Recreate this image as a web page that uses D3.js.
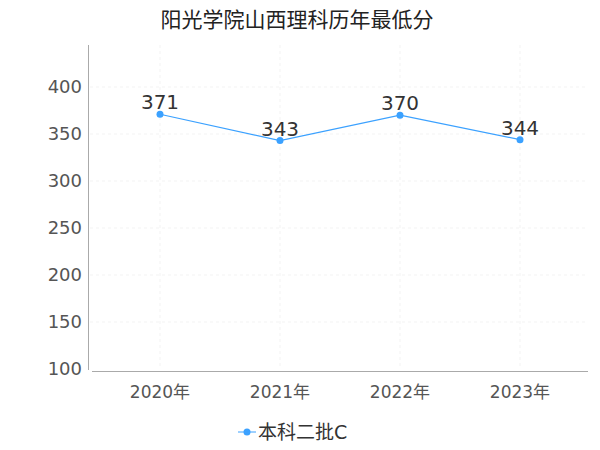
<!DOCTYPE html>
<html><head><meta charset="utf-8">
<script src="https://cdn.jsdelivr.net/npm/d3@7"></script>
<style>body{margin:0;background:#fff}text{font-family:"DejaVu Sans","Noto Sans CJK SC",sans-serif}</style>
</head><body>
<script>
// chart data
const years = ["2020年", "2021年", "2022年", "2023年"];
const scores = [371, 343, 370, 344];
const yTicks = [100, 150, 200, 250, 300, 350, 400];
const seriesName = "本科二批C";
const color = "#3ba1ff";

const w = 600, h = 450;
const svg = d3.select("body").append("svg").attr("width", w).attr("height", h);

const x = d3.scaleBand().domain(years).range([100, 580]);
const y = d3.scaleLinear().domain([100, 450]).range([369, 40]);

// grid
svg.selectAll(".hg").data(yTicks.slice(1)).enter().append("line")
  .attr("x1", 90).attr("x2", 588).attr("y1", d => y(d)).attr("y2", d => y(d))
  .attr("stroke", "#f3f3f3").attr("stroke-dasharray", "3,3");
svg.selectAll(".vg").data(years).enter().append("line")
  .attr("x1", d => x(d) + x.bandwidth() / 2).attr("x2", d => x(d) + x.bandwidth() / 2)
  .attr("y1", 45).attr("y2", 369).attr("stroke", "#f3f3f3").attr("stroke-dasharray", "3,3");

// axes
svg.append("line").attr("x1", 88.5).attr("x2", 88.5).attr("y1", 45).attr("y2", 370).attr("stroke", "#aaa");
svg.append("line").attr("x1", 92).attr("x2", 588).attr("y1", 371.5).attr("y2", 371.5).attr("stroke", "#aaa");
svg.selectAll(".yt").data(yTicks).enter().append("text")
  .attr("x", 82).attr("y", d => y(d)).attr("dy", "0.35em").attr("text-anchor", "end")
  .attr("font-size", 18).attr("fill", "#555").text(d => d);
svg.selectAll(".xt").data(years).enter().append("text")
  .attr("x", d => x(d) + x.bandwidth() / 2).attr("y", 398).attr("text-anchor", "middle")
  .attr("font-size", 17).attr("fill", "#555").text(d => d);

// line
const pts = years.map((d, i) => [x(d) + x.bandwidth() / 2, y(scores[i])]);
svg.append("path").attr("d", d3.line()(pts)).attr("fill", "none").attr("stroke", color).attr("stroke-width", 1.2);
svg.selectAll(".pt").data(pts).enter().append("circle")
  .attr("cx", d => d[0]).attr("cy", d => d[1]).attr("r", 3.5).attr("fill", color);
svg.selectAll(".lb").data(pts).enter().append("text")
  .attr("x", d => d[0]).attr("y", d => d[1] - 5).attr("text-anchor", "middle")
  .attr("font-size", 20).attr("fill", "#333").text((d, i) => scores[i]);

// title
svg.append("text").attr("x", 297).attr("y", 27).attr("text-anchor", "middle")
  .attr("font-size", 21).attr("fill", "#222").text("阳光学院山西理科历年最低分");

// legend
svg.append("line").attr("x1", 238).attr("x2", 256).attr("y1", 432).attr("y2", 432).attr("stroke", color);
svg.append("circle").attr("cx", 247).attr("cy", 432).attr("r", 3.5).attr("fill", color);
svg.append("text").attr("x", 258).attr("y", 432).attr("dy", "0.35em")
  .attr("font-size", 19).attr("fill", "#333").text(seriesName);
</script>
</body></html>
